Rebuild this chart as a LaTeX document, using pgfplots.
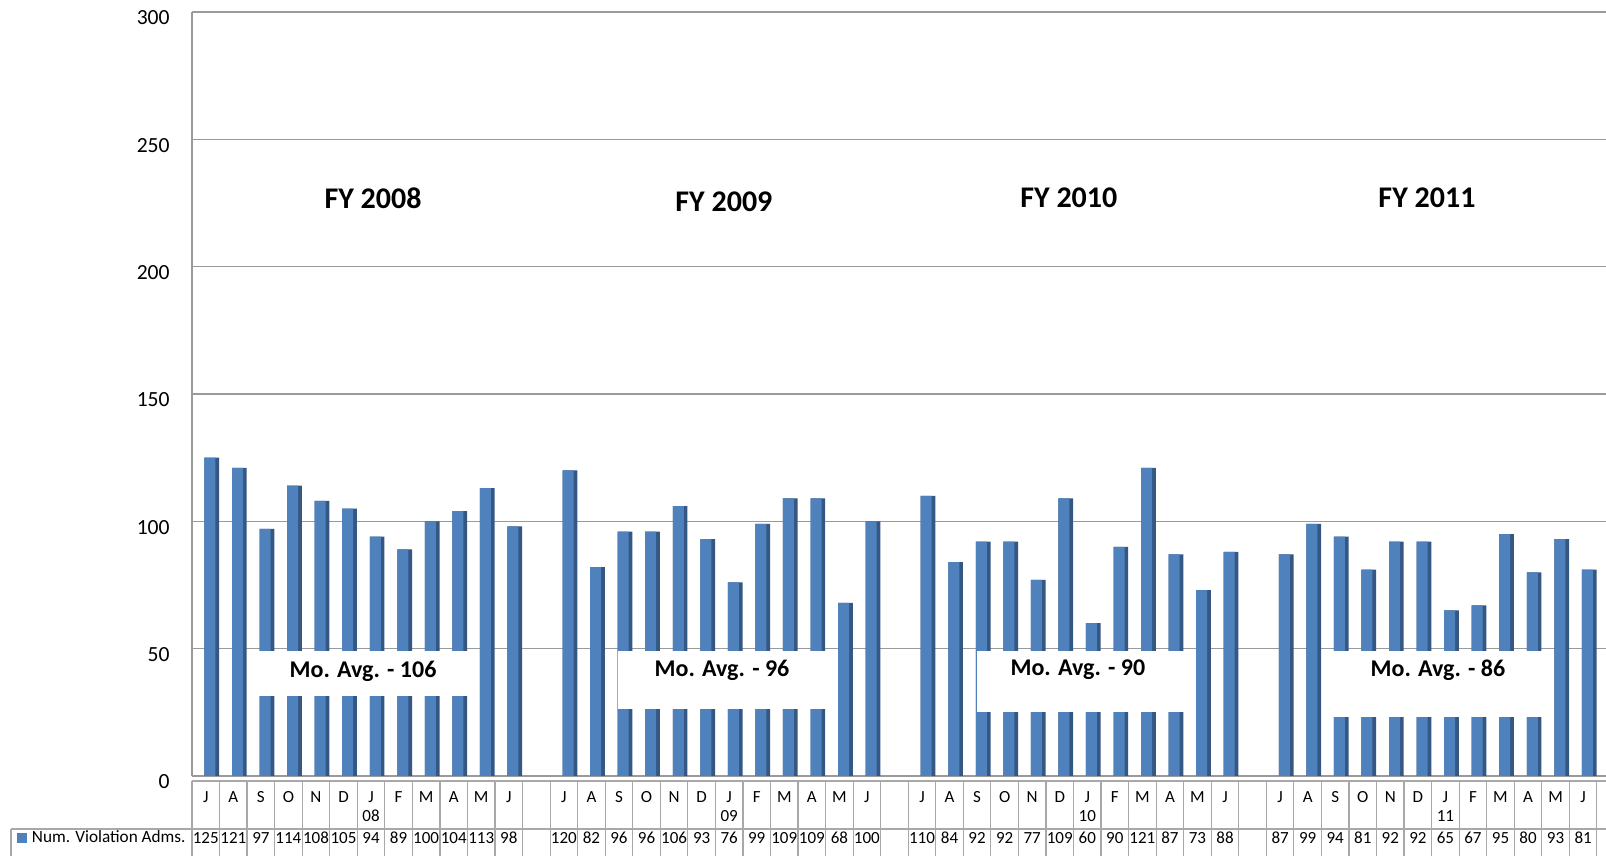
\documentclass[border=0pt]{standalone}
\usepackage{pgfplots}
\usepackage{pgfplotstable}
\pgfplotsset{compat=1.18}
\usepackage{fontspec}
\setmainfont{Carlito}
\definecolor{barfront}{HTML}{4F81BD}
\definecolor{barside}{HTML}{345784}
\definecolor{gridgray}{HTML}{9A9A9A}
\definecolor{tablegray}{HTML}{A8A8A8}
\newcommand\lab[3]{\strut#1\\\strut#2\\[1.5pt]\strut#3}
\pgfplotstableread{
x v
0 125
1 121
2 97
3 114
4 108
5 105
6 94
7 89
8 100
9 104
10 113
11 98
13 120
14 82
15 96
16 96
17 106
18 93
19 76
20 99
21 109
22 109
23 68
24 100
26 110
27 84
28 92
29 92
30 77
31 109
32 60
33 90
34 121
35 87
36 73
37 88
39 87
40 99
41 94
42 81
43 92
44 92
45 65
46 67
47 95
48 80
49 93
50 81
}\data
\begin{document}
\begin{tikzpicture}
\begin{axis}[
 at={(96pt,40pt)}, anchor=south west,
 scale only axis, width=707pt, height=382pt,
 xmin=-0.5, xmax=50.83, ymin=0, ymax=300,
 xtick={0,...,50},
 xticklabels={\lab{J}{}{125},\lab{A}{}{121},\lab{S}{}{97},\lab{O}{}{114},\lab{N}{}{108},\lab{D}{}{105},\lab{J}{08}{94},\lab{F}{}{89},\lab{M}{}{100},\lab{A}{}{104},\lab{M}{}{113},\lab{J}{}{98},{},
 \lab{J}{}{120},\lab{A}{}{82},\lab{S}{}{96},\lab{O}{}{96},\lab{N}{}{106},\lab{D}{}{93},\lab{J}{09}{76},\lab{F}{}{99},\lab{M}{}{109},\lab{A}{}{109},\lab{M}{}{68},\lab{J}{}{100},{},
 \lab{J}{}{110},\lab{A}{}{84},\lab{S}{}{92},\lab{O}{}{92},\lab{N}{}{77},\lab{D}{}{109},\lab{J}{10}{60},\lab{F}{}{90},\lab{M}{}{121},\lab{A}{}{87},\lab{M}{}{73},\lab{J}{}{88},{},
 \lab{J}{}{87},\lab{A}{}{99},\lab{S}{}{94},\lab{O}{}{81},\lab{N}{}{92},\lab{D}{}{92},\lab{J}{11}{65},\lab{F}{}{67},\lab{M}{}{95},\lab{A}{}{80},\lab{M}{}{93},\lab{J}{}{81}},
 ytick={0,50,...,300},
 axis lines=left,
 axis line style={-, draw=gridgray, line width=0.8pt},
 ymajorgrids, major grid style={draw=gridgray, line width=0.8pt},
 tick style={draw=none},
 major tick length=0pt,
 /pgf/number format/assume math mode=true,
 yticklabel style={font=\fontsize{10.8}{12}\selectfont, anchor=east, inner sep=0pt, xshift=-11pt, yshift=-3pt},
 xticklabel style={font=\fontsize{8.5}{9.5}\selectfont, anchor=north, inner sep=0pt, yshift=-6.3pt, align=center},
 clip=false,
 legend style={at={(axis description cs:-0.1238,-0.0812)}, anchor=west, draw=none, fill=none, inner sep=0pt, outer sep=0pt, font=\fontsize{8.6}{10}\selectfont, nodes={inner sep=0pt}, /tikz/every odd column/.append style={column sep=2.5pt}},
 legend cell align=left,
 legend image code/.code={\fill[barfront] (0pt,-2.5pt) rectangle (5pt,2.5pt);},
]
\addplot[ybar, bar width=7.35pt, bar shift=3.025pt, fill=barside, draw=none, forget plot] table[x=x,y=v]{\data};
\addplot[ybar, bar width=5.5pt, bar shift=2.1pt, fill=barfront, draw=none] table[x=x,y=v]{\data};
\addlegendentry{Num. Violation Adms.}
% average boxes
\fill[white] (axis cs:1.605,31.4) rectangle (axis cs:9.845,49.0);
\fill[white] (axis cs:14.96,26.3) rectangle (axis cs:22.55,49.0);
\fill[white] (axis cs:27.99,25.1) rectangle (axis cs:35.51,49.0);
\fill[white] (axis cs:40.92,23.2) rectangle (axis cs:48.54,49.0);
\node[font=\fontsize{12}{14}\selectfont\bfseries] at (axis cs:5.71,41.2) {Mo. Avg. - 106};
\node[font=\fontsize{12}{14}\selectfont\bfseries] at (axis cs:18.74,41.6) {Mo. Avg. - 96};
\node[font=\fontsize{12}{14}\selectfont\bfseries] at (axis cs:31.66,41.6) {Mo. Avg. - 90};
\node[font=\fontsize{12}{14}\selectfont\bfseries] at (axis cs:44.73,41.6) {Mo. Avg. - 86};
% year labels
\node[font=\fontsize{15}{18}\selectfont\bfseries] at (axis cs:6.07,227) {FY 2008};
\node[font=\fontsize{15}{18}\selectfont\bfseries] at (axis cs:18.81,225.4) {FY 2009};
\node[font=\fontsize{15}{18}\selectfont\bfseries] at (axis cs:31.33,227) {FY 2010};
\node[font=\fontsize{15}{18}\selectfont\bfseries] at (axis cs:44.33,227) {FY 2011};
\end{axis}
% data table grid
\foreach \k in {0,...,51} \draw[tablegray, line width=0.6pt] ({96pt+\k*13.773pt},0pt) -- ({96pt+\k*13.773pt},37.5pt);
\draw[tablegray, line width=0.6pt] (96pt,37.5pt) -- (803pt,37.5pt);
\draw[tablegray, line width=0.6pt] (5.5pt,13.5pt) -- (803pt,13.5pt);
\draw[tablegray, line width=0.6pt] (5.5pt,13.5pt) -- (5.5pt,0pt);
\pgfresetboundingbox
\path[use as bounding box] (0,0) rectangle (803pt,428pt);
\end{tikzpicture}
\end{document}
